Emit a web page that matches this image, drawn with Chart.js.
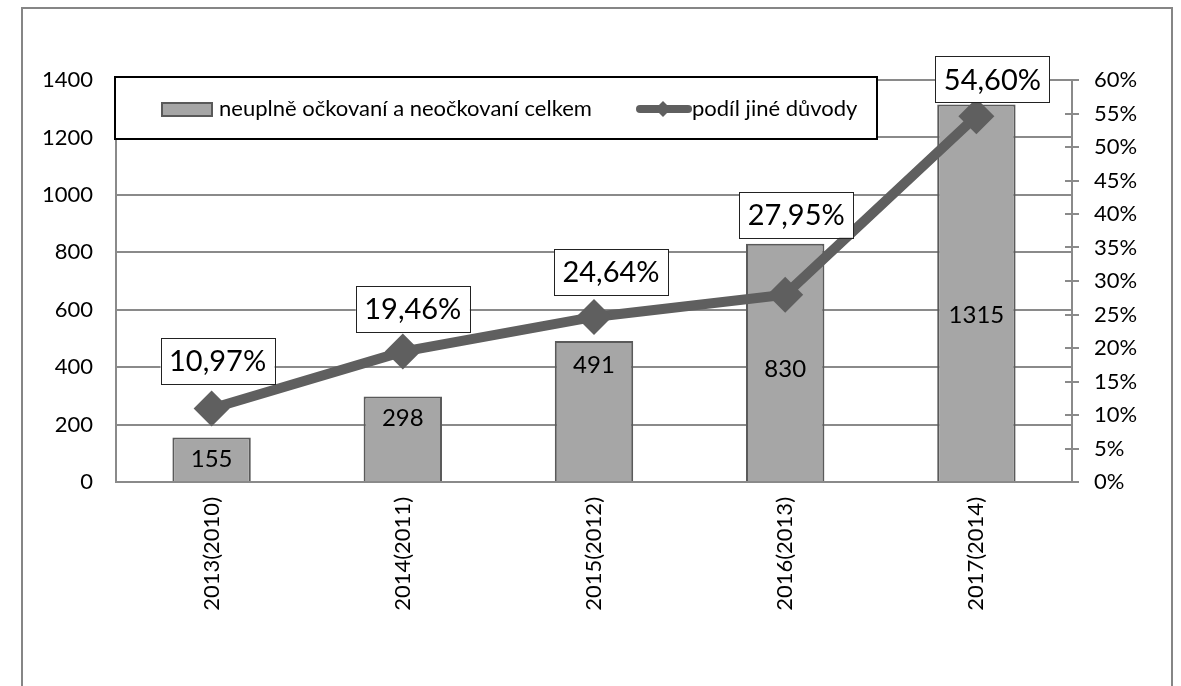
<!DOCTYPE html>
<html>
<head>
<meta charset="utf-8">
<script src="https://cdn.jsdelivr.net/npm/chart.js@4"></script>
<style>
  html, body { margin: 0; padding: 0; background: #fff; }
  #wrap { width: 1181px; height: 686px; }
</style>
</head>
<body>
<div id="wrap"><canvas id="vaxChart" width="1181" height="686"></canvas></div>
<script>
// --- Data ---
const categories = ['2013(2010)', '2014(2011)', '2015(2012)', '2016(2013)', '2017(2014)'];
const unvaccinatedTotal = [155, 298, 491, 830, 1315];
const otherReasonsShare = [10.97, 19.46, 24.64, 27.95, 54.60];
const seriesNames = ['neuplně očkovaní a neočkovaní celkem', 'podíl jiné důvody'];

// --- Style ---
const FONT = 'Lato, "Open Sans", sans-serif';
const BAR_FILL = '#a6a6a6';
const BAR_EDGE = '#5a5a5a';
const LINE_COL = '#5f5f5f';
const GRID_COL = '#8a8a8a';

// where the data labels sit, relative to their mark
const barLabelDrop = [22, 22, 24, 126, 211];
const pctLabelDx = [6, 10, 17, 11, 16];
const pctLabelDy = [-48, -43, -45, -80, -37];

function pctText(v) {
    return v.toFixed(2).replace('.', ',') + '%';
}

const extras = {
    id: 'extras',
    beforeDraw(chart) {
        const ctx = chart.ctx;
        ctx.save();
        ctx.strokeStyle = '#868686';
        ctx.lineWidth = 2;
        ctx.strokeRect(22, 8, 1150, 720);
        ctx.restore();
    },
    afterDraw(chart) {
        const ctx = chart.ctx;
        ctx.save();

        // inner half of the right axis tick marks
        const r = chart.scales.y1;
        ctx.strokeStyle = GRID_COL;
        ctx.lineWidth = 2;
        r.ticks.forEach((t, i) => {
            const y = Math.round(r.getPixelForTick(i));
            ctx.beginPath();
            ctx.moveTo(r.left - 7, y);
            ctx.lineTo(r.left, y);
            ctx.stroke();
        });

        // bar values
        ctx.fillStyle = '#000';
        ctx.font = '24px ' + FONT;
        ctx.textAlign = 'center';
        ctx.textBaseline = 'middle';
        chart.getDatasetMeta(0).data.forEach((bar, i) => {
            ctx.fillText(String(unvaccinatedTotal[i]), bar.x, bar.y + barLabelDrop[i]);
        });

        // legend box
        const lx = 115, ly = 77, lw = 762, lh = 62, cy = 109;
        ctx.fillStyle = '#fff';
        ctx.fillRect(lx, ly, lw, lh);
        ctx.strokeStyle = '#000';
        ctx.lineWidth = 2;
        ctx.strokeRect(lx, ly, lw, lh);

        ctx.fillStyle = BAR_FILL;
        ctx.strokeStyle = BAR_EDGE;
        ctx.fillRect(162, cy - 6, 50, 13);
        ctx.strokeRect(162, cy - 6, 50, 13);

        ctx.strokeStyle = LINE_COL;
        ctx.lineWidth = 8;
        ctx.lineCap = 'round';
        ctx.beginPath();
        ctx.moveTo(640, cy);
        ctx.lineTo(688, cy);
        ctx.stroke();
        ctx.fillStyle = LINE_COL;
        ctx.beginPath();
        ctx.moveTo(663, cy - 8);
        ctx.lineTo(671, cy);
        ctx.lineTo(663, cy + 8);
        ctx.lineTo(655, cy);
        ctx.closePath();
        ctx.fill();

        ctx.fillStyle = '#000';
        ctx.font = '22px ' + FONT;
        ctx.textAlign = 'left';
        ctx.fillText(chart.data.datasets[0].label, 219, cy);
        ctx.fillText(chart.data.datasets[1].label, 692, cy);

        // percentage labels in boxes
        ctx.font = '29px ' + FONT;
        ctx.textAlign = 'center';
        chart.getDatasetMeta(1).data.forEach((pt, i) => {
            const txt = pctText(otherReasonsShare[i]);
            const w = ctx.measureText(txt).width + 17;
            const h = 46;
            const x = pt.x + pctLabelDx[i];
            const y = pt.y + pctLabelDy[i];
            ctx.fillStyle = '#fff';
            ctx.fillRect(x - w / 2, y - h / 2, w, h);
            ctx.strokeStyle = '#222';
            ctx.lineWidth = 1;
            ctx.strokeRect(Math.round(x - w / 2) + 0.5, Math.round(y - h / 2) + 0.5, Math.round(w), h);
            ctx.fillStyle = '#000';
            ctx.fillText(txt, x, y + 1);
        });

        ctx.restore();
    }
};

new Chart(document.getElementById('vaxChart'), {
    type: 'bar',
    data: {
        labels: categories,
        datasets: [
            {
                label: seriesNames[0],
                data: unvaccinatedTotal,
                yAxisID: 'y',
                backgroundColor: BAR_FILL,
                borderColor: BAR_EDGE,
                borderWidth: 2,
                categoryPercentage: 1,
                barPercentage: 0.41,
                order: 2
            },
            {
                type: 'line',
                label: seriesNames[1],
                data: otherReasonsShare,
                yAxisID: 'y1',
                borderColor: LINE_COL,
                backgroundColor: LINE_COL,
                borderWidth: 10,
                pointStyle: 'rectRot',
                pointRadius: 18,
                pointBorderWidth: 0,
                pointBackgroundColor: LINE_COL,
                clip: false,
                order: 1
            }
        ]
    },
    options: {
        responsive: false,
        animation: false,
        layout: { padding: { top: 80, left: 0, right: 0, bottom: 0 } },
        plugins: {
            legend: { display: false },
            tooltip: { enabled: false }
        },
        scales: {
            x: {
                grid: { display: false, drawTicks: false },
                border: { color: GRID_COL, width: 2 },
                ticks: { minRotation: 90, maxRotation: 90, padding: 15, color: '#000', font: { family: FONT, size: 22 } },
                afterFit(s) { s.height = 204; }
            },
            y: {
                position: 'left',
                min: 0,
                max: 1400,
                ticks: { stepSize: 200, padding: 23, color: '#000', font: { family: FONT, size: 22 }, callback: v => String(v) },
                grid: { color: GRID_COL, lineWidth: 2, drawTicks: false },
                border: { color: GRID_COL, width: 2 },
                afterFit(s) { s.width = 116; }
            },
            y1: {
                position: 'right',
                min: 0,
                max: 60,
                ticks: { stepSize: 5, padding: 15, color: '#000', font: { family: FONT, size: 22 }, callback: v => v + '%' },
                grid: { drawOnChartArea: false, drawTicks: true, tickLength: 7, color: GRID_COL, lineWidth: 2 },
                border: { color: GRID_COL, width: 2 },
                afterFit(s) { s.width = 109; }
            }
        }
    },
    plugins: [extras]
});
</script>
</body>
</html>
